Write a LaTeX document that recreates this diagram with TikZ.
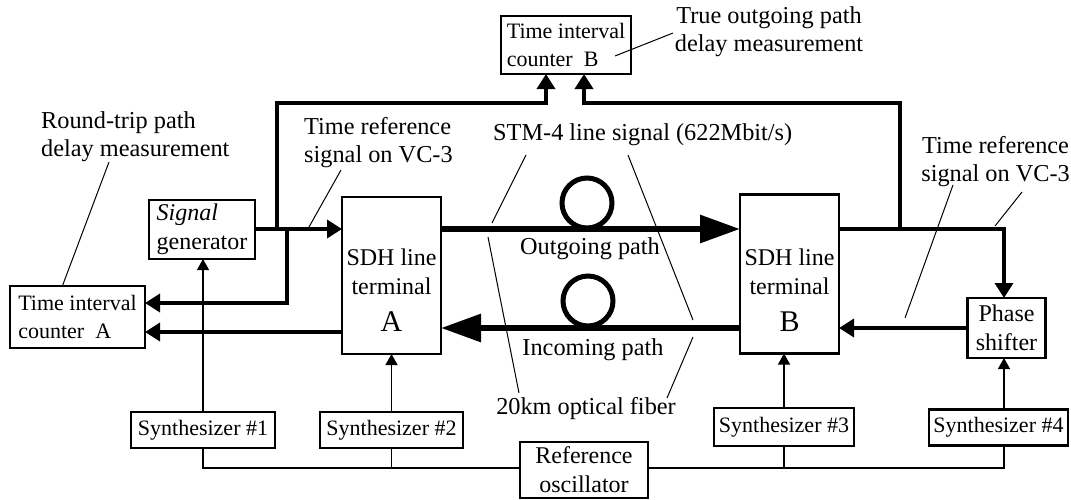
\documentclass[tikz,border=0pt]{standalone}
\usepackage{fontspec}
\setmainfont{Liberation Serif}
\usetikzlibrary{arrows.meta}
\newcommand\txtlbl{\fontsize{24.3}{28}\selectfont}
\newcommand\txtbox{\fontsize{22}{28}\selectfont}
\newcommand\txtmid{\fontsize{24}{29}\selectfont}
\tikzset{
  box/.style={draw, line width=2.6pt, inner sep=0pt, outer sep=0pt, font=\txtbox, align=center},
  txt/.style={inner sep=0pt, font=\txtmid, align=center},
  lbl/.style={inner sep=0pt, font=\txtlbl, align=left},
  sigw/.style={line width=3.5pt, -{Triangle[length=15pt,width=18pt]}},
  sigl/.style={line width=3.5pt},
  fibw/.style={line width=6pt, -{Triangle[length=40pt,width=27pt]}},
  loopw/.style={line width=5pt},
  thinw/.style={line width=1.3pt, -{Triangle[length=11pt,width=12pt]}},
  thinl/.style={line width=1.3pt},
  leader/.style={line width=1pt}
}
\begin{document}
\begin{tikzpicture}[x=1pt,y=-1pt]
\useasboundingbox (0,0) rectangle (1071,499);

% --- instruments ---
\node[box, align=left, minimum width=130pt, minimum height=58pt] (cntB) at (566,45) {Time interval\\counter\ \ B};
\node[box, align=left, minimum width=135pt, minimum height=62pt] (cntA) at (77.5,317) {Time interval\\counter\ \ A};
\node[box, align=left, font=\txtmid, minimum width=106pt, minimum height=59pt] (sig) at (202,229.5) {\textit{Signal}\\generator};

\node[box, minimum width=99pt, minimum height=157pt] (sdhA) at (391.5,275.5) {};
\node[txt] (sdhAt) at (391.5,272) {SDH line\\terminal};
\node[txt, font=\fontsize{30}{30}\selectfont] (sdhAl) at (391.5,322) {A};

\node[box, minimum width=99pt, minimum height=159pt] (sdhB) at (789.5,274) {};
\node[txt] (sdhBt) at (789.5,272) {SDH line\\terminal};
\node[txt, font=\fontsize{30}{30}\selectfont] (sdhBl) at (789.5,322) {B};

\node[box, font=\txtmid, minimum width=78pt, minimum height=60pt] (phase) at (1006.5,328) {Phase\\shifter};

\node[box, minimum width=144pt, minimum height=36pt] (syn1) at (203,430) {Synthesizer \#1};
\node[box, minimum width=143pt, minimum height=36pt] (syn2) at (391.5,430) {Synthesizer \#2};
\node[box, minimum width=140pt, minimum height=38pt] (syn3) at (784,427) {Synthesizer \#3};
\node[box, minimum width=139pt, minimum height=36pt] (syn4) at (998.5,427.5) {Synthesizer \#4};
\node[box, font=\txtmid, minimum width=128pt, minimum height=56pt] (ref) at (584,470) {Reference\\oscillator};

% --- labels ---
\node[lbl, anchor=west] (rt) at (41,137) {Round-trip path\\delay measurement};
\node[lbl, anchor=west] (trL) at (304,143) {Time reference\\signal on VC-3};
\node[lbl, anchor=west] (stm) at (493,135) {STM-4 line signal (622Mbit/s)};
\node[lbl, align=center] (tout) at (769,32) {True outgoing path\\delay measurement};
\node[lbl, align=center, anchor=east] (trR) at (1070,162) {Time reference\\signal on VC-3};
\node[lbl] (outp) at (590,249) {Outgoing path};
\node[lbl] (inp) at (593,350) {Incoming path};
\node[lbl] (fiber) at (586,409) {20km optical fiber};

% --- routing points ---
\coordinate (j1) at (277,229);
\coordinate (j2) at (287,229);
\coordinate (j3) at (900,229);
\coordinate (bL) at (546,103);
\coordinate (bR) at (584,103);
\coordinate (aU) at (287,303);
\coordinate (aL) at (0,332);
\coordinate (rW) at (0,229);
\coordinate (fo) at (0,229);
\coordinate (fi) at (0,328);
\coordinate (s4) at (1004,0);
\coordinate (bw) at (0,468);

% --- signal wiring ---
\draw[sigw] (sig.east |- fo) -- (sdhA.west |- fo);
\draw[sigw] (j1) |- (bL) -- (bL |- cntB.south);
\draw[sigw] (j2) -- (aU) -- (aU -| cntA.east);
\draw[sigw] (sdhA.west |- aL) -- (cntA.east |- aL);
\draw[sigl] (sdhB.east |- rW) -- (j3);
\draw[sigw] (j3) -| (s4 |- phase.north);
\draw[sigw] (j3) |- (bR) -- (bR |- cntB.south);
\draw[sigw] (phase.west) -- (phase.west -| sdhB.east);

% --- optical fibre paths ---
\draw[fibw] (sdhA.east |- fo) -- (sdhB.west |- fo);
\draw[fibw] (sdhB.west |- fi) -- (sdhA.east |- fi);
\draw[loopw] (587,203) circle[radius=25];
\draw[loopw] (588,301) circle[radius=25];

% --- clock distribution ---
\draw[thinw] (syn1.north) -- (syn1.north |- sig.south);
\draw[thinw] (syn2.north) -- (syn2.north |- sdhA.south);
\draw[thinw] (syn3.north) -- (syn3.north |- sdhB.south);
\draw[thinw] (s4 |- syn4.north) -- (s4 |- phase.south);
\draw[thinl] (syn1.south) -- (syn1.south |- bw) -- (ref.west |- bw);
\draw[thinl] (syn2.south) -- (syn2.south |- bw);
\draw[thinl] (ref.east |- bw) -- (s4 |- bw) -- (s4 |- syn4.south);
\draw[thinl] (syn3.south) -- (syn3.south |- bw);

% --- leader lines ---
\coordinate (l1a) at (109,162); \coordinate (l1b) at (62,287);
\coordinate (l2a) at (341,170); \coordinate (l2b) at (309,227);
\coordinate (l3a) at (526,155); \coordinate (l3b) at (492,223);
\coordinate (l4a) at (628,155); \coordinate (l4b) at (693,320);
\coordinate (l5a) at (488,237); \coordinate (l5b) at (519,393);
\coordinate (l6a) at (693,337); \coordinate (l6b) at (667,398);
\coordinate (l7a) at (953,185); \coordinate (l7b) at (905,318);
\coordinate (l8a) at (1022,192); \coordinate (l8b) at (995,226);
\coordinate (l9a) at (615,56); \coordinate (l9b) at (673,33);
\draw[leader] (l1a) -- (l1b);
\draw[leader] (l2a) -- (l2b);
\draw[leader] (l3a) -- (l3b);
\draw[leader] (l4a) -- (l4b);
\draw[leader] (l5a) -- (l5b);
\draw[leader] (l6a) -- (l6b);
\draw[leader] (l7a) -- (l7b);
\draw[leader] (l8a) -- (l8b);
\draw[leader] (l9a) -- (l9b);
\end{tikzpicture}
\end{document}
